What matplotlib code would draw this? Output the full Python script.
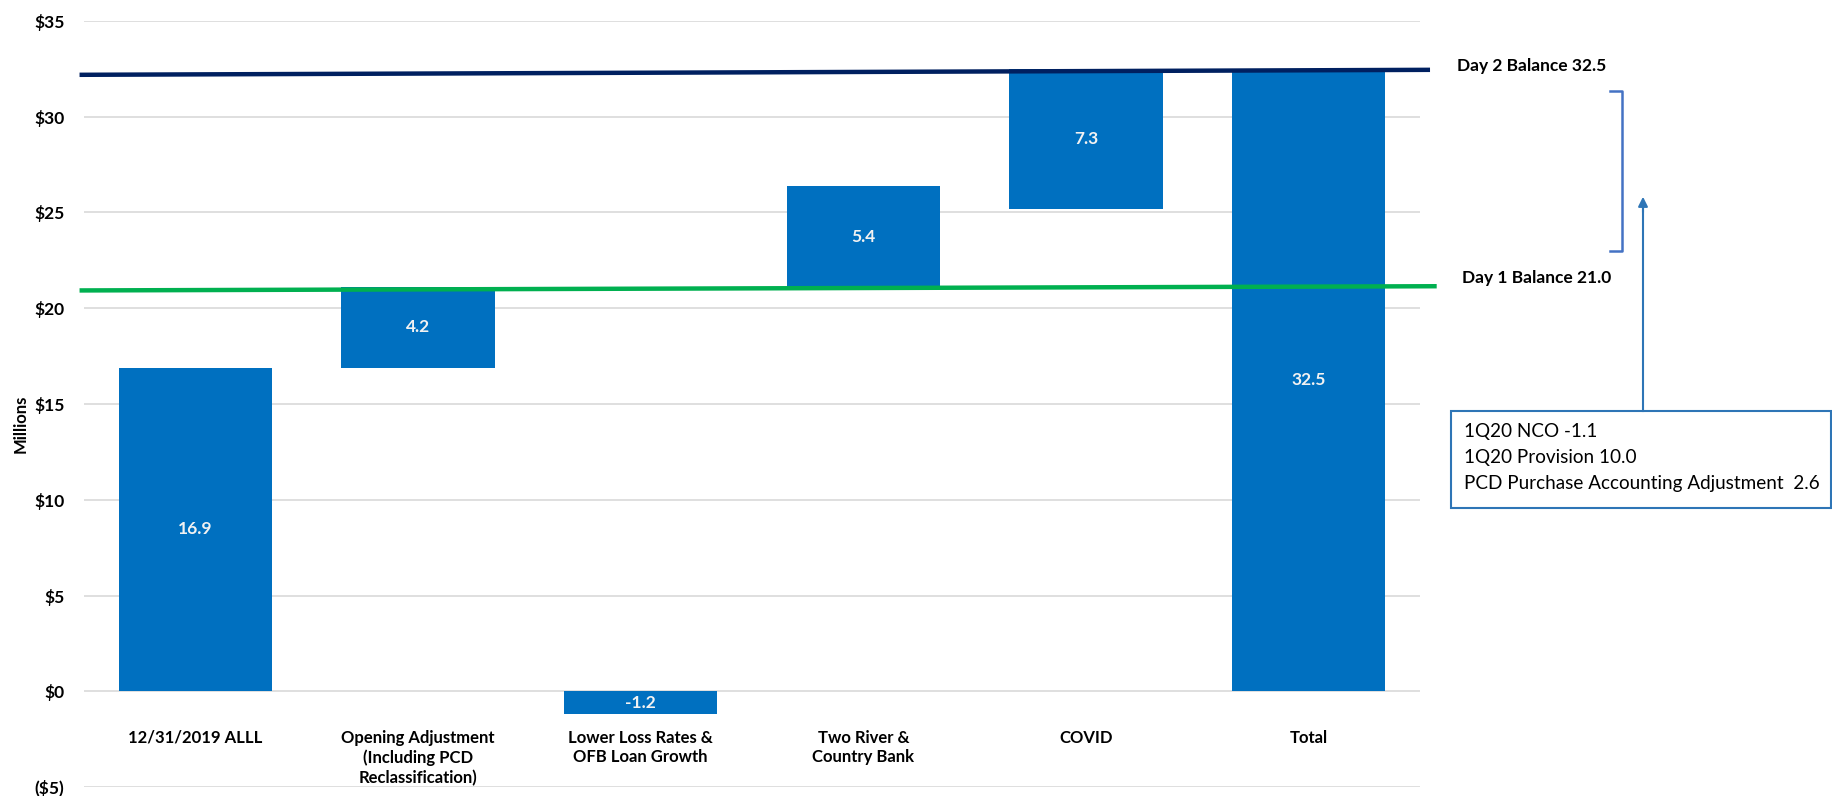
import matplotlib.pyplot as plt
from matplotlib.patches import Rectangle

plt.rcParams['font.family'] = ['Lato', 'DejaVu Sans']

# waterfall data
categories = ['12/31/2019 ALLL', 'Opening Adjustment\n(Including PCD\nReclassification)',
              'Lower Loss Rates &\nOFB Loan Growth', 'Two River &\nCountry Bank', 'COVID', 'Total']
values = [16.9, 4.2, -1.2, 5.4, 7.3, 32.5]
bottoms = [0, 16.9, 0, 21.0, 25.2, 0]

day1 = [20.93, 21.15]   # slightly slanted in the original
day2 = [32.19, 32.45]
yticks = [-5, 0, 5, 10, 15, 20, 25, 30, 35]
ytick_labels = ['($5)', '$0', '$5', '$10', '$15', '$20', '$25', '$30', '$35']
notes = ['1Q20 NCO -1.1', '1Q20 Provision 10.0', 'PCD Purchase Accounting Adjustment  2.6']

W, H = 1833, 796
fig = plt.figure(figsize=(W / 100, H / 100), dpi=100)
ax = fig.add_axes([84 / W, 1 - 787 / H, 1336 / W, 766 / H])

x = list(range(len(categories)))
ax.bar(x, values, bottom=bottoms, width=0.69, color='#0070C0', zorder=2)
for i, (v, b) in enumerate(zip(values, bottoms)):
    ax.text(i, b + v / 2, f'{v:.1f}', ha='center', va='center', color='#F2F2F2',
            fontsize=12.5, fontweight='bold', zorder=4)

for i, lab in enumerate(categories):
    ax.text(i, -2.0, lab, ha='center', va='top', fontsize=12, fontweight='bold',
            linespacing=1.3)

ax.set_xlim(-0.5, 5.5)
ax.set_ylim(-5, 35)
ax.set_xticks([])
ax.set_yticks(yticks)
ax.set_yticklabels(ytick_labels, fontsize=12.5, fontweight='bold')
ax.tick_params(axis='y', length=0, pad=14)
ax.grid(axis='y', color='#D9D9D9', lw=1.2, zorder=0)
for s in ax.spines.values():
    s.set_visible(False)

# balance lines
ax.plot([-0.52, 5.575], day1, color='#00B050', lw=3.2, clip_on=False, zorder=3,
        solid_capstyle='butt')
ax.plot([-0.52, 5.545], day2, color='#002060', lw=3.2, clip_on=False, zorder=3,
        solid_capstyle='butt')
ax.text(5.665, 32.67, f'Day 2 Balance {values[-1]:.1f}', va='center', ha='left',
        fontsize=12.5, fontweight='bold', clip_on=False)
ax.text(5.69, 21.56, 'Day 1 Balance 21.0', va='center', ha='left',
        fontsize=12.5, fontweight='bold', clip_on=False)

# bracket
bx0, bx1 = 1610 / W, 1622 / W
by0, by1 = 1 - 91 / H, 1 - 251 / H
fig.add_artist(plt.Line2D([bx0, bx1, bx1, bx0], [by0, by0, by1, by1],
                          color='#4472C4', lw=1.8, transform=fig.transFigure))

# arrow from box up to bracket
fig.add_artist(plt.Line2D([1643 / W, 1643 / W], [1 - 411 / H, 1 - 205 / H],
                          color='#2E75B6', lw=1.5, transform=fig.transFigure))
ax.annotate('', xy=(1643 / W, 1 - 194 / H), xytext=(1643 / W, 1 - 215 / H),
            xycoords='figure fraction', textcoords='figure fraction',
            arrowprops=dict(arrowstyle='-|>', color='#2E75B6', lw=1.5,
                            mutation_scale=14))

# note box
fig.add_artist(Rectangle((1451 / W, 1 - 508 / H), 380 / W, 97 / H, fill=False,
                         edgecolor='#2E75B6', lw=1.5, transform=fig.transFigure))
for k, line in enumerate(notes):
    fig.text(1464 / W, 1 - (432 + 25.5 * k) / H, line, va='center', ha='left',
             fontsize=13.6)

fig.text(21 / W, 1 - 424 / H, 'Millions', rotation=90, va='center', ha='center',
         fontsize=12, fontweight='bold')

fig.savefig('out.png', dpi=100)
